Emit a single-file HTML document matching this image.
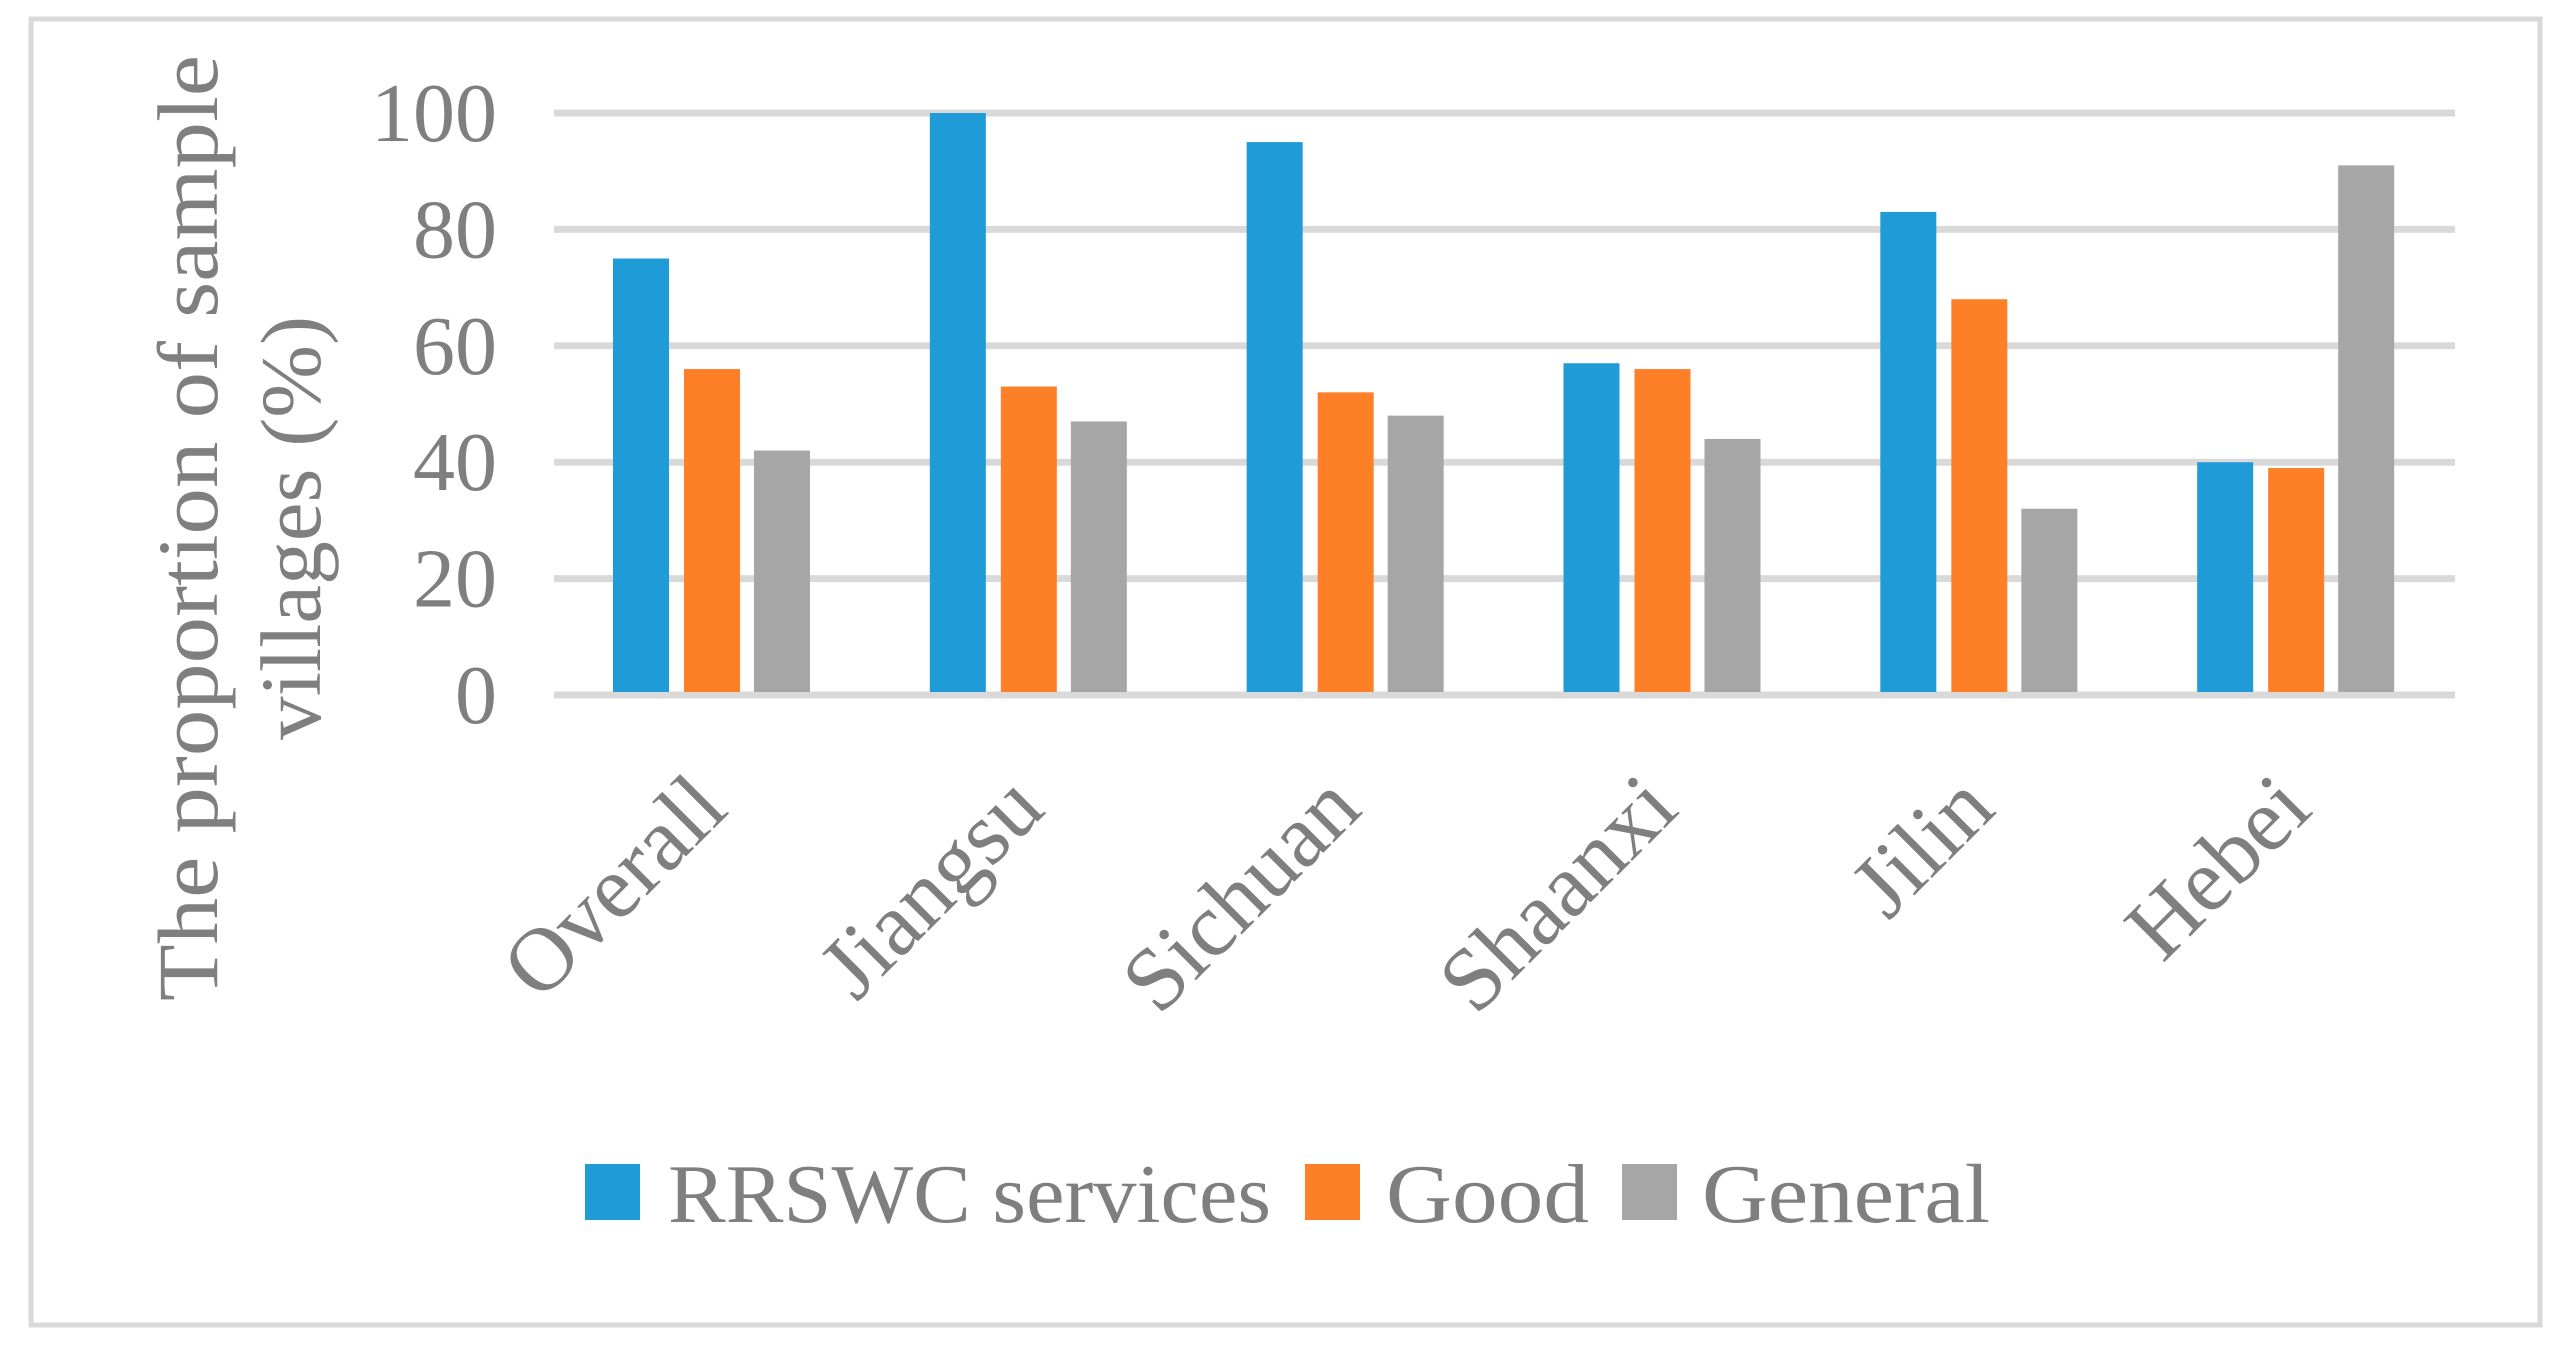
<!DOCTYPE html>
<html><head><meta charset="utf-8"><style>
html,body{margin:0;padding:0;background:#fff;}
svg{display:block;font-family:"Liberation Serif",serif;}
</style></head><body>
<svg id="chart" width="2571" height="1358" viewBox="0 0 2571 1358" xmlns="http://www.w3.org/2000/svg">
<rect x="31" y="19" width="2509" height="1306" fill="#fff" stroke="#d9d9d9" stroke-width="5"/>
<g id="grid"></g>
<g id="bars"></g>
<g id="ylabels"></g>
<g id="xlabels"></g>
<g fill="#7f7f7f" font-size="86">
<text transform="translate(217,528) rotate(-90)" text-anchor="middle" textLength="946" lengthAdjust="spacingAndGlyphs">The proportion of sample</text>
<text transform="translate(320,528) rotate(-90)" text-anchor="middle" textLength="424" lengthAdjust="spacingAndGlyphs">villages (%)</text>
</g>
<g fill="#7f7f7f" font-size="84">
<rect x="585" y="1164" width="55" height="56" fill="#1f9bd7"/>
<text x="668" y="1222" textLength="603" lengthAdjust="spacingAndGlyphs">RRSWC services</text>
<rect x="1305" y="1164" width="55" height="56" fill="#fd7f27"/>
<text x="1386" y="1222" textLength="203" lengthAdjust="spacingAndGlyphs">Good</text>
<rect x="1622" y="1164" width="55" height="56" fill="#a6a6a6"/>
<text x="1702" y="1222" textLength="288" lengthAdjust="spacingAndGlyphs">General</text>
</g>
</svg>
<script>
const categories = ["Overall","Jiangsu","Sichuan","Shaanxi","Jilin","Hebei"];
const rrswc = [75,100,95,57,83,40];
const good = [56,53,52,56,68,39];
const general = [42,47,48,44,32,91];
const yTicks = [0,20,40,60,80,100];

const NS = "http://www.w3.org/2000/svg";
const plotLeft = 554, plotRight = 2455, plotTop = 113, plotBottom = 695, yMax = 100;
const band = (plotRight-plotLeft)/categories.length;
function yScale(v){ return plotBottom - (v/yMax)*(plotBottom-plotTop); }
function xBand(i){ return plotLeft + i*band; }

const grid = document.getElementById('grid');
const yl = document.getElementById('ylabels');
yTicks.forEach(t=>{
  const l = document.createElementNS(NS,'line');
  
  
  l.setAttribute('x1',plotLeft); l.setAttribute('x2',plotRight);
  l.setAttribute('y1',yScale(t)); l.setAttribute('y2',yScale(t));
  l.setAttribute('stroke','#d9d9d9'); l.setAttribute('stroke-width','7');
  grid.appendChild(l);
  const tx = document.createElementNS(NS,'text');
  
  
  tx.setAttribute('x',497); tx.setAttribute('y',yScale(t)+28);
  tx.setAttribute('text-anchor','end'); tx.setAttribute('font-size','84');
  tx.setAttribute('fill','#7f7f7f');
  tx.textContent = t;
  yl.appendChild(tx);
});

const series = [rrswc, good, general];
const colors = ["#1f9bd7","#fd7f27","#a6a6a6"];
const names = ["rrswc","good","general"];
const bars = document.getElementById('bars');
const barW = 56, offsets = [59,130,200];
categories.forEach((c,i)=>{
  series.forEach((s,k)=>{
    const r = document.createElementNS(NS,'rect');
    
    
    r.setAttribute('x', xBand(i)+offsets[k]);
    r.setAttribute('y', yScale(s[i]));
    r.setAttribute('width', barW);
    r.setAttribute('height', Math.max(0, plotBottom - yScale(s[i]) - 3));
    r.setAttribute('fill', colors[k]);
    bars.appendChild(r);
  });
});

const xl = document.getElementById('xlabels');
categories.forEach((c,i)=>{
  const cx = xBand(i)+band/2 + 18;
  const t = document.createElementNS(NS,'text');
  
  
  t.setAttribute('transform','translate('+cx+',812) rotate(-45)');
  t.setAttribute('text-anchor','end');
  t.setAttribute('font-size','90');
  t.setAttribute('fill','#7f7f7f');
  t.textContent = c;
  xl.appendChild(t);
});
</script>
</body></html>
